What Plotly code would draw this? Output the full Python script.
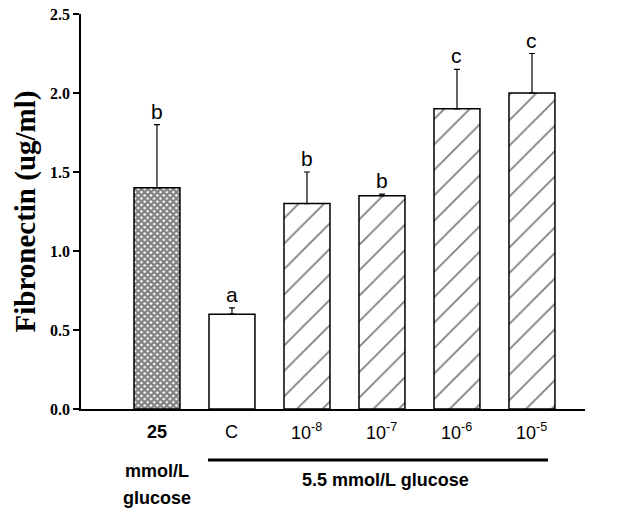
import plotly.graph_objects as go

categories = ["25", "C", "1e-8", "1e-7", "1e-6", "1e-5"]
tick_labels = ["<b>25</b>", "C", "10<sup>-8</sup>", "10<sup>-7</sup>", "10<sup>-6</sup>", "10<sup>-5</sup>"]
values = [1.40, 0.60, 1.30, 1.35, 1.90, 2.00]
errors = [0.40, 0.04, 0.20, 0.01, 0.25, 0.25]
letters = ["b", "a", "b", "b", "c", "c"]
y_ticks = [0, 0.5, 1.0, 1.5, 2.0, 2.5]
y_tick_text = ["0.0", "0.5", "1.0", "1.5", "2.0", "2.5"]

SANS = "Liberation Sans, Arial, sans-serif"
SERIF = "Liberation Serif, Times New Roman, serif"

fig = go.Figure()

shapes_pat = ["x", "", "/", "/", "/", "/"]
sizes_pat = [4.5, 8, 18, 18, 18, 18]
solid_pat = [0.75, 0.1, 0.1, 0.1, 0.1, 0.1]

fig.add_trace(go.Bar(
    x=list(range(len(categories))),
    y=values,
    width=0.613,
    marker=dict(
        color="white",
        line=dict(color="black", width=1.5),
        pattern=dict(shape=shapes_pat, size=sizes_pat, solidity=solid_pat,
                     fgcolor="black", bgcolor="white", fillmode="overlay"),
    ),
    error_y=dict(type="data", array=errors, arrayminus=[0] * len(errors),
                 symmetric=False, color="black", thickness=1.2, width=3),
    hoverinfo="skip",
    showlegend=False,
))

annotations = []
for i, (v, e, l) in enumerate(zip(values, errors, letters)):
    annotations.append(dict(x=i, y=v + e, xref="x", yref="y", text=l, showarrow=False,
                            yanchor="bottom", yshift=0,
                            font=dict(family=SANS, size=21, color="black")))

for i, t in enumerate(tick_labels):
    annotations.append(dict(x=i, y=-0.058, xref="x", yref="paper", text=t, showarrow=False,
                            yanchor="middle", font=dict(family=SANS, size=18, color="black")))

annotations += [
    dict(x=5.95, y=-0.058, xref="x", yref="paper", text="<b>Ang II</b>", showarrow=False,
         yanchor="middle", font=dict(family=SANS, size=18, color="black")),
    dict(x=0, y=-0.158, xref="x", yref="paper", text="<b>mmol/L</b>", showarrow=False,
         yanchor="middle", font=dict(family=SANS, size=18, color="black")),
    dict(x=0, y=-0.226, xref="x", yref="paper", text="<b>glucose</b>", showarrow=False,
         yanchor="middle", font=dict(family=SANS, size=18, color="black")),
    dict(x=(385 - 81) / 504, y=-0.18, xref="paper", yref="paper", text="<b>5.5 mmol/L glucose</b>",
         showarrow=False, yanchor="middle", font=dict(family=SANS, size=18, color="black")),
]

fig.update_layout(
    width=644, height=513,
    margin=dict(l=81, r=59, t=14, b=104, autoexpand=False),
    paper_bgcolor="white", plot_bgcolor="white",
    annotations=annotations,
    shapes=[dict(type="line", xref="paper", yref="paper", x0=0.252, x1=0.9266,
                 y0=-0.129, y1=-0.129, line=dict(color="black", width=3))],
    xaxis=dict(range=[-1.013, 5.707], showticklabels=False, ticks="", showgrid=False,
               zeroline=False, showline=True, linecolor="black", linewidth=1.5,
               automargin=False),
    yaxis=dict(range=[0, 2.5001], tickvals=y_ticks, ticktext=y_tick_text,
               ticks="outside", ticklen=6, tickwidth=1.5, tickcolor="black",
               ticklabeloverflow="allow",
               showgrid=False, zeroline=False, showline=True, linecolor="black", linewidth=1.5,
               automargin=False,
               tickfont=dict(family=SERIF, size=16, color="black", weight="bold"),
               title=dict(text="<b>Fibronectin (ug/ml)</b>", standoff=6,
                          font=dict(family=SERIF, size=29, color="black"))),
)

# remove the default 8px page margin so the figure fills the window exactly
fig.write_html("out.html", config={"displayModeBar": False},
               post_script="document.body.style.margin='0px';document.body.style.overflow='hidden';")
